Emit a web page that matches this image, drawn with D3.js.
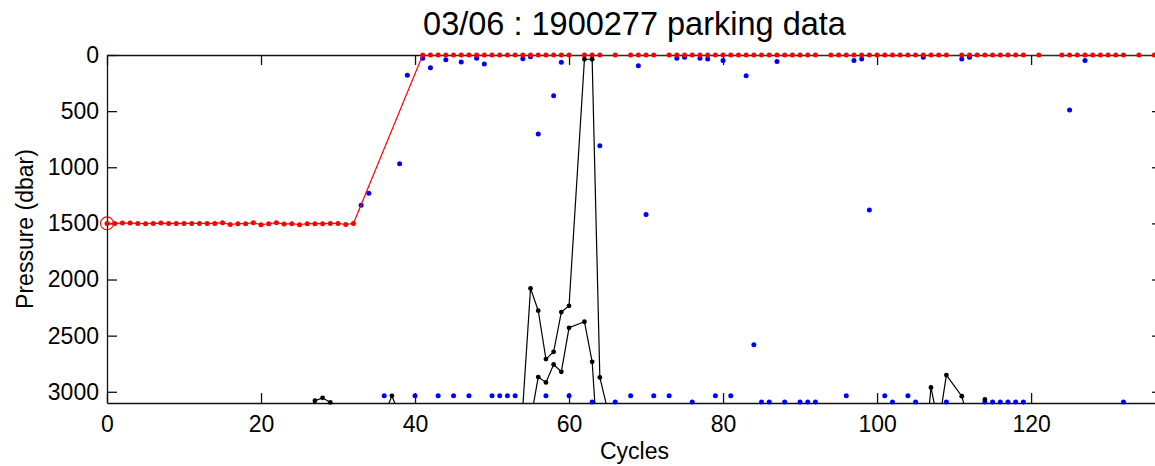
<!DOCTYPE html>
<html>
<head>
<meta charset="utf-8">
<script src="https://cdn.jsdelivr.net/npm/d3@7"></script>
<style>
  html, body { margin: 0; padding: 0; background: #fff; }
  svg { display: block; font-family: "Liberation Sans", Arial, Helvetica, sans-serif; }
</style>
</head>
<body>
<svg id="chart" width="1155" height="466"></svg>
<script>
// Target parking pressure per cycle (red)
const targetCycles = [0,1,2,3,4,5,6,7,8,9,10,11,12,13,14,15,16,17,18,19,20,21,22,23,24,25,26,27,28,29,30,31,32,
  41,42,43,44,45,46,47,48,49,50,51,52,53,54,55,56,57,58,59,60,62,63,64,66,68,69,70,71,
  73,74,75,76,77,78,79,80,81,82,83,84,85,86,87,88,89,90,91,92,94,95,96,97,98,99,100,101,102,103,104,105,106,107,108,109,
  111,112,113,114,115,116,117,118,119,121,124,125,126,127,128,129,130,131,132,134,136];
const targetPres = [1500,1500,1497,1497,1500,1503,1500,1497,1500,1500,1500,1500,1500,1500,1500,1494,1510,1503,1503,1494,1512,1503,1494,1506,1503,1512,1503,1503,1503,1500,1500,1510,1500,
  0,0,0,0,0,0,0,0,0,0,0,0,0,0,0,0,0,0,0,0,0,0,0,0,0,0,0,0,
  0,0,0,0,0,0,0,0,0,0,0,0,0,0,0,0,0,0,0,0,0,0,0,0,0,0,0,0,0,0,0,0,0,0,0,0,0,0,
  0,0,0,0,0,0,0,0,0,0,0,0,0,0,0,0,0,0,0,0,0];

// Measured parking pressure per cycle (blue)
const measCycles = [33,34,36,38,39,40,41,42,43,44,45,46,47,48,49,50,51,52,53,54,55,56,57,58,59,60,63,64,66,68,69,70,71,
  73,74,75,76,77,78,79,80,81,83,84,85,86,87,88,90,91,92,96,97,98,99,101,102,104,105,106,109,111,112,
  114,115,116,117,118,119,125,127,132];
const measPres = [1339,1232,3036,968,181,3036,30,113,3036,42,3036,62,3036,30,80,3036,3036,3036,3036,33,15,704,3036,362,65,3036,3090,808,3090,3036,95,1420,3036,
  3036,30,21,3090,30,36,3036,48,3036,184,2581,3090,3090,59,3090,3090,3090,3090,3036,48,36,1381,3036,3090,3036,3090,21,3090,36,21,
  3090,3090,3090,3090,3090,3090,490,48,3090];

// Secondary pressure record (black); null breaks the trace
const auxCycles = [26,27,28,29,30,null,36,37,38,null,54,55,56,57,58,59,60,62,63,64,65,null,106,107,108,109,111,112,null,114];
const auxPres   = [3200,3080,3054,3095,3200,null,3210,3036,3210,null,3130,2079,2278,2709,2644,2290,2234,38,38,2872,3160,null,3700,2961,3300,2851,3039,3300,null,3068];

const auxCycles2 = [55,56,57,58,59,60,62,63,64];
const auxPres2   = [3257,2869,2917,2757,2822,2430,2376,2733,3780];

const xTicks = [0,20,40,60,80,100,120];
const yTicks = [0,500,1000,1500,2000,2500,3000];

const titleText = "03/06 : 1900277 parking data";

const svg = d3.select("#chart");
const plotLeft = 107, plotRight = 1162, plotTop = 55, plotBottom = 403;

const x = d3.scaleLinear().domain([0, 137]).range([plotLeft, plotRight]);
const y = d3.scaleLinear().domain([0, 3100]).range([plotTop, plotBottom]);

const zip = (cs, ps) => cs.map((c, i) => ({c, p: ps[i]}));
const target = zip(targetCycles, targetPres);
const meas = zip(measCycles, measPres);
const aux1 = zip(auxCycles, auxPres);
const aux2 = zip(auxCycles2, auxPres2);

svg.append("clipPath").attr("id", "plotClip")
  .append("rect").attr("x", plotLeft).attr("y", plotTop)
  .attr("width", plotRight - plotLeft).attr("height", plotBottom - plotTop);

// axes with inward ticks on all four sides
const axisStyle = g => {
  g.attr("font-family", null).attr("font-size", null);
  g.selectAll(".domain").attr("stroke", "#111").attr("stroke-width", 1.3);
  g.selectAll(".tick line").attr("stroke", "#111").attr("stroke-width", 1.3);
  g.selectAll(".tick text").attr("fill", "#000").style("font-size", "23px");
};

svg.append("g").attr("transform", `translate(0,${plotBottom})`)
  .call(d3.axisBottom(x).tickValues(xTicks).tickSizeInner(-10).tickSizeOuter(0).tickPadding(12.5).tickFormat(d3.format("d")))
  .call(axisStyle);
svg.append("g").attr("transform", `translate(0,${plotTop})`)
  .call(d3.axisTop(x).tickValues(xTicks).tickSizeInner(-10).tickSizeOuter(0).tickFormat(""))
  .call(axisStyle);
svg.append("g").attr("transform", `translate(${plotLeft},0)`)
  .call(d3.axisLeft(y).tickValues(yTicks).tickSizeInner(-10).tickSizeOuter(0).tickPadding(8).tickFormat(d3.format("d")))
  .call(axisStyle);
svg.append("g").attr("transform", `translate(${plotRight},0)`)
  .call(d3.axisRight(y).tickValues(yTicks).tickSizeInner(-10).tickSizeOuter(0).tickFormat(""))
  .call(axisStyle);

const line = d3.line().defined(d => d.c != null && d.p != null).x(d => x(d.c)).y(d => y(d.p));
const inView = d => d.c != null && d.p != null && d.p <= 3100;

// measured points
svg.append("g").selectAll("circle").data(meas).join("circle")
  .attr("cx", d => x(d.c)).attr("cy", d => y(d.p)).attr("r", 2.5).attr("fill", "#0000ff");

// target trace
svg.append("path").datum(target).attr("clip-path", "url(#plotClip)")
  .attr("d", line).attr("fill", "none").attr("stroke", "#ff0000").attr("stroke-width", 1.2);
svg.append("g").selectAll("circle").data(target).join("circle")
  .attr("cx", d => x(d.c)).attr("cy", d => y(d.p)).attr("r", 2.5).attr("fill", "#ff0000");
svg.append("circle").attr("cx", x(target[0].c)).attr("cy", y(target[0].p)).attr("r", 6.5)
  .attr("fill", "none").attr("stroke", "#ff0000").attr("stroke-width", 1.1);

// secondary traces
[aux1, aux2].forEach(series => {
  svg.append("path").datum(series).attr("clip-path", "url(#plotClip)")
    .attr("d", line).attr("fill", "none").attr("stroke", "#000").attr("stroke-width", 1.2);
  svg.append("g").selectAll("circle").data(series.filter(inView)).join("circle")
    .attr("cx", d => x(d.c)).attr("cy", d => y(d.p)).attr("r", 2.4).attr("fill", "#000");
});

// titles
svg.append("text").attr("x", (plotLeft + plotRight) / 2).attr("y", 35).attr("text-anchor", "middle")
  .style("font-size", "32.5px").attr("fill", "#000").text(titleText);
svg.append("text").attr("x", (plotLeft + plotRight) / 2).attr("y", 459).attr("text-anchor", "middle")
  .style("font-size", "23px").attr("fill", "#000").text("Cycles");
svg.append("text").attr("transform", `translate(33,${(plotTop + plotBottom) / 2}) rotate(-90)`)
  .attr("text-anchor", "middle").style("font-size", "23px").attr("fill", "#000").text("Pressure (dbar)");
</script>
</body>
</html>
